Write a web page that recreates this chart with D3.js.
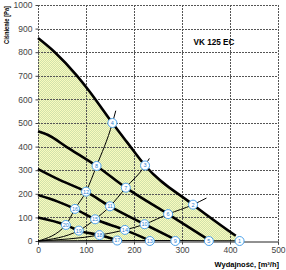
<!DOCTYPE html>
<html>
<head>
<meta charset="utf-8">
<script src="https://cdn.jsdelivr.net/npm/d3@7"></script>
<style>
  body { margin: 0; background: #fff; }
  svg { display: block; font-family: "Liberation Sans", Arial, sans-serif; }
</style>
</head>
<body>
<script>
// fan curves (airflow m3/h, pressure Pa)
var curveMaxX = [0, 35, 80, 105, 155, 185, 223, 323, 412];
var curveMaxY = [860, 800, 703, 640, 500, 420, 320, 154, 22];
var curve2X = [0, 21, 60, 122, 183, 271, 350];
var curve2Y = [465, 449, 398, 318, 226, 114, 12];
var curve3X = [0, 46, 100, 150, 222, 280];
var curve3Y = [305, 258, 209, 147, 71, 12];
var curve4X = [0, 40, 77, 119, 181, 226];
var curve4Y = [195, 168, 136, 92, 47, 8];
var curve5X = [0, 58, 85, 128, 160];
var curve5Y = [100, 68, 44, 25, 6];

// system (duct) curves through the origin
var sys1X = [0, 58, 77, 100, 122, 155, 162];
var sys1Y = [0, 68, 136, 209, 318, 500, 552];
var sys2X = [0, 85, 119, 150, 183, 223, 232];
var sys2Y = [0, 44, 92, 147, 226, 320, 350];
var sys3X = [0, 128, 181, 222, 271, 323, 351];
var sys3Y = [0, 25, 47, 71, 114, 154, 182];
var sys4X = [0, 165, 233, 286, 356, 420];
var sys4Y = [0, 2, 2, 2, 1, 1];

// numbered operating points
var pointNo = [1, 2, 3, 4, 5, 6, 7, 8, 9, 10, 11, 12, 13, 14, 15, 16, 17, 18, 19, 20];
var pointX = [420, 323, 223, 155, 356, 271, 183, 122, 286, 222, 150, 100, 233, 181, 119, 77, 165, 128, 85, 58];
var pointY = [0, 154, 320, 500, 0, 114, 226, 318, 0, 71, 147, 209, 0, 47, 92, 136, 2, 25, 44, 68];

var xTicks = [0, 100, 200, 300, 400, 500];
var yTicks = [0, 100, 200, 300, 400, 500, 600, 700, 800, 900, 1000];

var margin = { top: 5, right: 8, bottom: 29, left: 38 };
var width = 286 - margin.left - margin.right;
var height = 270 - margin.top - margin.bottom;

var svg = d3.select("body")
    .append("svg")
    .attr("width", 286)
    .attr("height", 270);

// checkered yellow/green fill like the original
var pat = svg.append("defs").append("pattern")
    .attr("id", "chk")
    .attr("width", 2)
    .attr("height", 2)
    .attr("patternUnits", "userSpaceOnUse");
pat.append("rect").attr("width", 2).attr("height", 2).attr("fill", "#fafabe");
pat.append("rect").attr("width", 1).attr("height", 1).attr("fill", "#d0e2ac");
pat.append("rect").attr("x", 1).attr("y", 1).attr("width", 1).attr("height", 1).attr("fill", "#d0e2ac");

var g = svg.append("g")
    .attr("transform", "translate(" + margin.left + "," + margin.top + ")");

var x = d3.scaleLinear().domain([0, 500]).range([0, width]);
var y = d3.scaleLinear().domain([0, 1000]).range([height, 0]);

var zip = (xs, ys) => xs.map((v, i) => [v, ys[i]]);

var line = d3.line()
    .x(d => x(d[0]))
    .y(d => y(d[1]))
    .curve(d3.curveMonotoneX);

// working area under the max curve
var maxPts = zip(curveMaxX, curveMaxY);
var lastX = curveMaxX[curveMaxX.length - 1];
g.append("path")
    .attr("d", line(maxPts) + "L" + x(lastX) + "," + y(0) + "L" + x(0) + "," + y(0) + "Z")
    .attr("fill", "url(#chk)");

// dotted grid
g.append("g")
    .selectAll("line")
    .data(xTicks)
    .enter().append("line")
    .attr("x1", d => x(d) + 0.5).attr("x2", d => x(d) + 0.5)
    .attr("y1", 0).attr("y2", height)
    .attr("stroke", "#555")
    .attr("stroke-dasharray", "2,1");
g.append("g")
    .selectAll("line")
    .data(yTicks.slice(1))
    .enter().append("line")
    .attr("x1", 0).attr("x2", width)
    .attr("y1", d => Math.round(y(d)) + 0.5).attr("y2", d => Math.round(y(d)) + 0.5)
    .attr("stroke", "#555")
    .attr("stroke-dasharray", "2,1");

// axes
var xAxis = g.append("g")
    .attr("transform", "translate(0," + (Math.round(height) + 0.5) + ")")
    .call(d3.axisBottom(x).tickValues(xTicks).tickFormat(d => d).tickSize(3).tickPadding(2));
var yAxis = g.append("g")
    .attr("transform", "translate(0.5,0)")
    .call(d3.axisLeft(y).tickValues(yTicks).tickFormat(d => d).tickSize(3).tickPadding(3));
xAxis.select(".domain").attr("stroke", "#222");
yAxis.select(".domain").remove();
[xAxis, yAxis].forEach(a => {
    a.selectAll("text")
        .attr("fill", "#444")
        .style("font-size", "8.5px")
        .style("font-family", "'Liberation Sans', Arial, sans-serif");
    a.selectAll(".tick line").attr("stroke", "#444");
});

// system curves (thin)
[[sys1X, sys1Y], [sys2X, sys2Y], [sys3X, sys3Y], [sys4X, sys4Y]].forEach(s => {
    g.append("path")
        .attr("d", line(zip(s[0], s[1])))
        .attr("fill", "none")
        .attr("stroke", "#000")
        .attr("stroke-width", 1);
});

// fan curves (thick)
[[curveMaxX, curveMaxY], [curve2X, curve2Y], [curve3X, curve3Y], [curve4X, curve4Y], [curve5X, curve5Y]].forEach(c => {
    g.append("path")
        .attr("d", line(zip(c[0], c[1])))
        .attr("fill", "none")
        .attr("stroke", "#000")
        .attr("stroke-width", 2.6);
});

// numbered markers
var pts = g.append("g")
    .selectAll("g")
    .data(pointNo.map((n, i) => ({ n: n, x: pointX[i], y: pointY[i] })))
    .enter().append("g")
    .attr("transform", d => "translate(" + x(d.x) + "," + y(d.y) + ")");
pts.append("circle")
    .attr("r", 4.5)
    .attr("fill", "#fff")
    .attr("stroke", "#4fa3ea")
    .attr("stroke-width", 1);
pts.append("text")
    .attr("text-anchor", "middle")
    .attr("dy", "0.35em")
    .attr("fill", "#2a7fd4")
    .style("font-size", "5.5px")
    .text(d => d.n);

// titles
svg.append("text")
    .attr("x", 214)
    .attr("y", 45)
    .attr("text-anchor", "middle")
    .attr("font-weight", "bold")
    .attr("font-size", "9px")
    .attr("textLength", 41)
    .attr("lengthAdjust", "spacingAndGlyphs")
    .text("VK 125 EC");

svg.append("text")
    .attr("x", 279)
    .attr("y", 267)
    .attr("text-anchor", "end")
    .attr("font-weight", "bold")
    .attr("font-size", "7.5px")
    .text("Wydajność, [m³/h]");

svg.append("text")
    .attr("transform", "translate(9,25) rotate(-90)")
    .attr("text-anchor", "middle")
    .attr("font-weight", "bold")
    .attr("font-size", "6.5px")
    .attr("textLength", 38)
    .attr("lengthAdjust", "spacingAndGlyphs")
    .text("Ciśnienie [Pa]");
</script>
</body>
</html>
